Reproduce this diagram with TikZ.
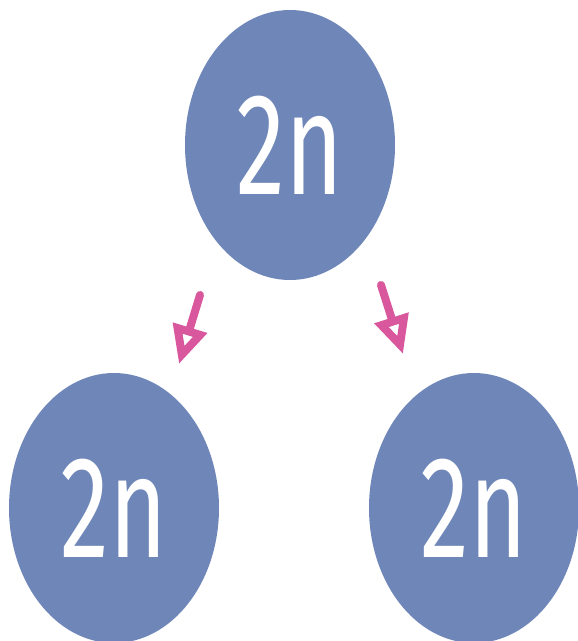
\documentclass[tikz,border=0pt]{standalone}
\usepackage{fontspec}
\newfontfamily\handfont[FakeStretch=0.68]{Fira Sans}
\usetikzlibrary{shapes.geometric,arrows.meta}
\definecolor{cellblue}{HTML}{6E86B8}
\definecolor{splitpink}{HTML}{D9579C}

\begin{document}
\begin{tikzpicture}[x=1pt,y=-1pt,
  cell/.style={ellipse,fill=cellblue,inner sep=0pt,minimum width=210pt,minimum height=270pt,
    text=white,font=\handfont\fontsize{145}{145}\selectfont},
  split/.style={draw=splitpink,line width=8pt,line cap=round,line join=round,
    -{Triangle[open,length=38pt,width=34pt]}}]
\useasboundingbox (0,0) rectangle (578,641) ;
\node [cell] (parent) at (290,145) {2n} ;
\node [cell] (left) at (114,508) {2n} ;
\node [cell] (right) at (474,508) {2n} ;
\coordinate (lstart) at (200,295) ;
\coordinate (lend) at (179,364) ;
\coordinate (rstart) at (381,285) ;
\coordinate (rend) at (403,354) ;
\draw [split] (lstart) -- (lend) ;
\draw [split] (rstart) -- (rend) ;
\end{tikzpicture}
\end{document}
